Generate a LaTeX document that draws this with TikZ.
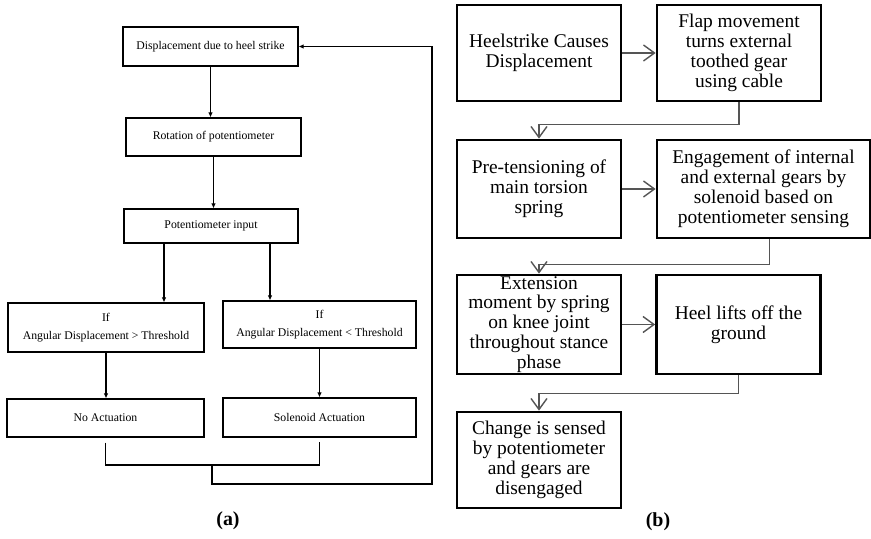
\documentclass[tikz,border=0pt]{standalone}
\usepackage{fontspec}
\setmainfont{Liberation Serif}
\usepackage{tikz}
\usetikzlibrary{arrows.meta, positioning, calc}
\definecolor{linkgray}{HTML}{555555}

\begin{document}
\begin{tikzpicture}[x=1bp, y=-1bp,
    sbox/.style={draw, line width=1.1bp, align=center, inner sep=0pt,
      font=\fontsize{11.8}{18}\selectfont},
    bbox/.style={draw, line width=2.7bp, align=center, inner sep=0pt,
      minimum width=164bp, minimum height=96bp,
      font=\fontsize{19.5}{20}\selectfont},
    sarr/.style={line width=1.1bp, -{Latex[length=5bp,width=4.5bp]}},
    barb/.style={draw=linkgray, line width=1.4bp,
      -{Straight Barb[length=11bp,width=16bp]}},
    sublabel/.style={font=\fontsize{20}{24}\selectfont\bfseries}
  ]
  \useasboundingbox (0,0) rectangle (871,539);

  % (a) control loop
  \node[sbox, minimum width=175bp, minimum height=39bp] (disp) at (210.5,46.5)
    {Displacement due to heel strike};
  \node[sbox, minimum width=175bp, minimum height=38bp] (rot) at (213.5,137)
    {Rotation of potentiometer};
  \node[sbox, minimum width=174bp, minimum height=34bp] (pin) at (211,226)
    {Potentiometer input};
  \node[sbox, minimum width=196bp, minimum height=49bp] (above) at (106,327.5)
    {If\\Angular Displacement > Threshold};
  \node[sbox, minimum width=193bp, minimum height=47bp] (below) at (319.5,324.5)
    {If\\Angular Displacement < Threshold};
  \node[sbox, minimum width=197bp, minimum height=38bp] (noact) at (105.5,418)
    {No Actuation};
  \node[sbox, minimum width=193bp, minimum height=39bp] (solact) at (319.5,417.5)
    {Solenoid Actuation};

  \draw[sarr] (disp.south) -- (disp.south |- rot.north);
  \draw[sarr] (rot.south) -- (rot.south |- pin.north);
  \draw[sarr] ([xshift=-47bp]pin.south) -- ([xshift=-47bp]pin.south |- above.north);
  \draw[sarr] ([xshift=59bp]pin.south) -- ([xshift=59bp]pin.south |- below.north);
  \draw[sarr] (above.south) -- (above.south |- noact.north);
  \draw[sarr] (below.south) -- (below.south |- solact.north);

  \coordinate (join) at (212,465);
  \coordinate (back) at (432,484);
  \draw[line width=1.1bp] ([yshift=-5bp]noact.south) |- (join)
    -| ([yshift=-4bp]solact.south);
  \draw[sarr] (join) |- (back) |- (disp.east);

  % (b) mechanism sequence
  \node[bbox] (heel) at (539,53) {Heelstrike Causes\\Displacement};
  \node[bbox] (flap) at (739,53)
    {Flap movement\\turns external\\toothed gear\\using cable};
  \node[bbox, minimum height=98bp] (pretens) at (539,189)
    {Pre-tensioning of\\main torsion\\spring};
  \node[bbox, minimum width=213bp, minimum height=98bp] (engage) at (763.5,189)
    {Engagement of internal\\and external gears by\\solenoid based on\\potentiometer sensing};
  \node[bbox, minimum height=99bp] (extend) at (539,324.5)
    {Extension\\moment by spring\\on knee joint\\throughout stance\\phase};
  \node[bbox, minimum height=99bp] (lift) at (738.5,324.5)
    {Heel lifts off the\\ground};
  \node[bbox] (sense) at (539,460)
    {Change is sensed\\by potentiometer\\and gears are\\disengaged};

  \draw[barb] (heel) -- (flap);
  \draw[barb] (flap.south) -- ++(0,22) -| (pretens.north);
  \draw[barb] (pretens) -- (engage);
  \draw[barb] ([xshift=6bp]engage.south) -- ++(0,25) -| (extend.north);
  \draw[barb] (extend) -- (lift);
  \draw[barb] (lift.south) -- ++(0,18) -| (sense.north);

  \node[sublabel] (capa) at (228,521) {(a)};
  \node[sublabel] (capb) at (658,522) {(b)};
\end{tikzpicture}
\end{document}
